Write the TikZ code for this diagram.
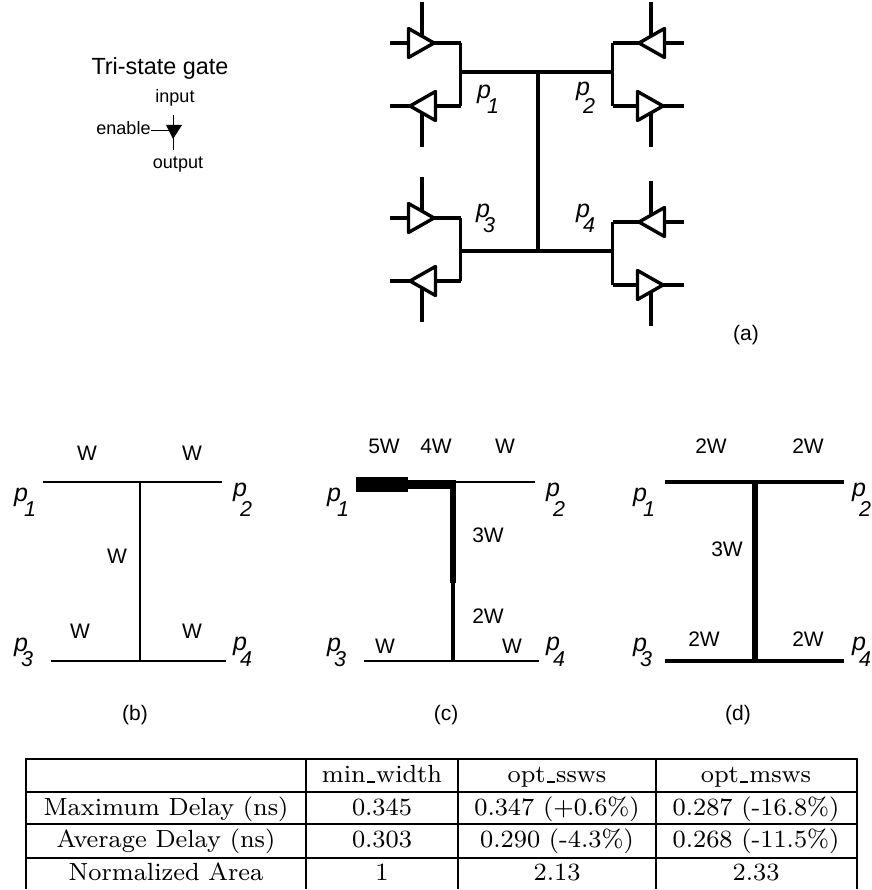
\documentclass[tikz,border=0pt]{standalone}
\usepackage{fontspec}
\setsansfont{Liberation Sans}

% #1 = how close the digit sits, #2 = digit, #3 = how far the digit drops
\newcommand{\plabel}[3][7]{\textit{\fontsize{25pt}{25pt}\selectfont p\kern-#1pt\raisebox{-#3pt}{\fontsize{21.5pt}{21.5pt}\selectfont #2}}}
\newcommand{\tabtext}[1]{\scalebox{3.1}{\footnotesize #1}}
\newcommand{\usc}{\kern.04em\rule[-.12ex]{.34em}{.09em}\kern.04em}

\tikzset{
  txt/.style={font=\sffamily\fontsize{21pt}{21pt}\selectfont, inner sep=0pt},
  small/.style={font=\sffamily\fontsize{18pt}{18pt}\selectfont, inner sep=0pt},
  title/.style={font=\sffamily\fontsize{23.4pt}{23.4pt}\selectfont, inner sep=0pt},
  plab/.style={font=\sffamily, inner sep=0pt, anchor=base west},
  tab/.style={inner sep=0pt, anchor=base},
  wire/.style={line width=3.8pt, line join=round},
  gate/.style={line width=3.4pt, line join=round, fill=white},
  rule/.style={line width=1.8pt, line cap=rect},
}
% #1 = name, #2 = place, #3 = way it points, #4 = side of the bus, #5 = side of the enable
\newcommand{\tristate}[5]{%
  \begin{scope}[shift={(#2)}]
    \coordinate (#1bus) at ({#4*38.5},0);
    \coordinate (#1ext) at ({-#4*32.5},0);
    \coordinate (#1en) at (0,{#5*41});
    \coordinate (#1edge) at (0,{#5*8});
    \draw[wire] (#1ext) -- (#1bus);
    \draw[wire] (#1en) -- (#1edge);
    \draw[gate] ({-#3*13.5},-14.5) -- ({-#3*13.5},14.5) -- ({#3*12},0) -- cycle;
  \end{scope}
}

\begin{document}
\begin{tikzpicture}[x=1pt,y=-1pt]
  \useasboundingbox (0,0) rectangle (871,890);

  % (a) gates
  \tristate{ga}{422,43}{1}{1}{-1}
  \tristate{gb}{422,106}{-1}{1}{1}
  \tristate{gc}{422,218}{1}{1}{-1}
  \tristate{gd}{422,281}{-1}{1}{1}
  \tristate{ge}{651,43}{-1}{-1}{-1}
  \tristate{gf}{651,106}{1}{-1}{1}
  \tristate{gg}{651,222}{-1}{-1}{-1}
  \tristate{gh}{651,285}{1}{-1}{1}

  \coordinate (a1) at (460.5,72);
  \coordinate (a2) at (612.5,72);
  \coordinate (a3) at (460.5,251);
  \coordinate (a4) at (612.5,251);
  \coordinate (at) at (538,72);
  \coordinate (ab) at (538,251);
  \draw[wire] (gabus) -- (gbbus);
  \draw[wire] (gebus) -- (gfbus);
  \draw[wire] (gcbus) -- (gdbus);
  \draw[wire] (ggbus) -- (ghbus);
  \draw[wire] (a1) -- (a2);
  \draw[wire] (a3) -- (a4);
  \draw[wire] (at) -- (ab);

  \node[plab] (pa1) at (477,99) {\plabel[4]{1}{15}};
  \node[plab] (pa2) at (576,96) {\plabel{2}{18}};
  \node[plab] (pa3) at (476,218) {\plabel{3}{15}};
  \node[plab] (pa4) at (576,218) {\plabel{4}{15}};
  \node[txt] (capa) at (746,335) {(a)};

  % key
  \node[title] (key) at (160,68) {Tri-state gate};
  \node[small] (kin) at (175,98) {input};
  \node[small] (ken) at (123.5,128) {enable};
  \node[small] (kout) at (178,165) {output};
  \coordinate (kt) at (173,115);
  \coordinate (kb) at (173,150);
  \coordinate (kl) at (151,131);
  \coordinate (kr) at (173,131);
  \draw[line width=1pt] (kt) -- (kb);
  \draw[line width=1pt] (kl) -- (kr);
  \fill (166,125) -- (182,125) -- (173,139) -- cycle;

  % (b)
  \coordinate (b1) at (43,482);
  \coordinate (b2) at (222,482);
  \coordinate (b3) at (51,661);
  \coordinate (b4) at (226,661);
  \coordinate (bt) at (140,482);
  \coordinate (bb) at (140,661);
  \draw[line width=1.2pt] (b1) -- (b2);
  \draw[line width=1.2pt] (b3) -- (b4);
  \draw[line width=1.2pt] (bt) -- (bb);
  \foreach \name/\x/\y/\t in {bw1/87/453/W,bw2/192/453/W,bw3/117/556/W,bw4/80/631/W,bw5/192/631/W,capb/135/715/(b)}
    \node[txt] (\name) at (\x,\y) {\t};
  \node[plab] (pb1) at (14,501) {\plabel[4]{1}{15}};
  \node[plab] (pb2) at (233,496) {\plabel{2}{20}};
  \node[plab] (pb3) at (14,651) {\plabel{3}{15}};
  \node[plab] (pb4) at (233,650) {\plabel{4}{16}};

  % (c)
  \coordinate (c1) at (356,484.5);
  \coordinate (c2) at (408,484.5);
  \coordinate (c3) at (456,484.5);
  \coordinate (c4) at (453,482);
  \coordinate (c5) at (535,482);
  \coordinate (c6) at (453,583);
  \coordinate (c7) at (453,661);
  \coordinate (c8) at (364,661);
  \coordinate (c9) at (539,661);
  \draw[line width=15pt] (c1) -- (c2);
  \draw[line width=9pt] (c2) -- (c3);
  \draw[line width=1.2pt] (c4) -- (c5);
  \draw[line width=6pt] (c4) -- (c6);
  \draw[line width=4pt] (c6) -- (c7);
  \draw[line width=1.2pt] (c8) -- (c9);
  \foreach \name/\x/\y/\t in {cw1/384/446/5W,cw2/436/446/4W,cw3/505/446/W,cw4/488/535/3W,cw5/488/616/2W,cw6/385/646/W,cw7/512/646/W,capc/446/715/(c)}
    \node[txt] (\name) at (\x,\y) {\t};
  \node[plab] (pc1) at (327,501) {\plabel[4]{1}{15}};
  \node[plab] (pc2) at (546,496) {\plabel{2}{20}};
  \node[plab] (pc3) at (327,651) {\plabel{3}{15}};
  \node[plab] (pc4) at (546,650) {\plabel{4}{16}};

  % (d)
  \coordinate (d1) at (665,482);
  \coordinate (d2) at (844,482);
  \coordinate (d3) at (665,661);
  \coordinate (d4) at (844,661);
  \coordinate (dt) at (755,482);
  \coordinate (db) at (755,661);
  \draw[line width=4pt] (d1) -- (d2);
  \draw[line width=4pt] (d3) -- (d4);
  \draw[line width=6.5pt] (dt) -- (db);
  \foreach \name/\x/\y/\t in {dw1/711/446/2W,dw2/808/446/2W,dw3/727/549/3W,dw4/704/639/2W,dw5/808/639/2W,capd/738/715/(d)}
    \node[txt] (\name) at (\x,\y) {\t};
  \node[plab] (pd1) at (633,501) {\plabel[4]{1}{15}};
  \node[plab] (pd2) at (852,496) {\plabel{2}{20}};
  \node[plab] (pd3) at (633,651) {\plabel{3}{15}};
  \node[plab] (pd4) at (852,650) {\plabel{4}{16}};

  % table
  \foreach \y in {759,792,824}
    \draw[rule] (26,\y) -- (857,\y);
  \draw[rule,line width=2.8pt] (26,858) -- (857,858);
  \foreach \x in {26,306,458,656,857}
    \draw[rule,line width=2.4pt,line cap=butt] (\x,758) -- (\x,889);
  \foreach \name/\x/\y/\t in {
      t12/382/782/min\usc width, t13/557/782/opt\usc ssws, t14/756/782/opt\usc msws,
      t21/166/815/Maximum Delay (ns), t22/382/815/0.345, t23/557/815/0.347 (+0.6\%), t24/756/815/0.287 (-16.8\%),
      t31/166/847/Average Delay (ns), t32/382/847/0.303, t33/557/847/0.290 (-4.3\%), t34/756/847/0.268 (-11.5\%),
      t41/166/880/Normalized Area, t42/382/880/1, t43/557/880/2.13, t44/756/880/2.33}
    \node[tab] (\name) at (\x,\y) {\tabtext{\t}};
\end{tikzpicture}
\end{document}
